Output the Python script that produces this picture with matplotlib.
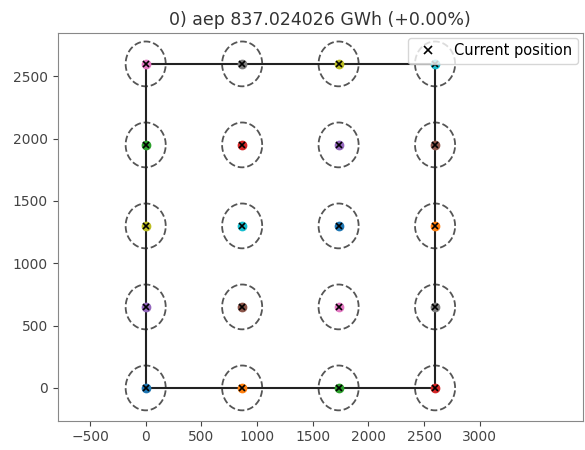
import numpy as np
import matplotlib
matplotlib.use("Agg")
import matplotlib.pyplot as plt

# -------------------------------------------------------------
# Data
# -------------------------------------------------------------
turbine_x = [0, 866, 1732, 2598]
turbine_y = [0, 650, 1300, 1950, 2600]
boundary_x = [0, 2598, 2598, 0, 0]
boundary_y = [0, 0, 2600, 2600, 0]
spacing_radius = 180
title_text = "0) aep 837.024026 GWh (+0.00%)"
x_ticks = [-500, 0, 500, 1000, 1500, 2000, 2500, 3000]
y_ticks = [0, 500, 1000, 1500, 2000, 2500]

# -------------------------------------------------------------
# Figure
# -------------------------------------------------------------
fig = plt.figure(figsize=(5.85, 4.5), dpi=100)
ax = fig.add_axes([0.0986, 0.0651, 0.8974, 0.861])

ax.plot(boundary_x, boundary_y, color='#222222', lw=1.5, zorder=2)

colors = plt.rcParams['axes.prop_cycle'].by_key()['color']
theta = np.linspace(0, 2 * np.pi, 200)
xs, ys = np.meshgrid(turbine_x, turbine_y)
xs = xs.ravel()
ys = ys.ravel()
for i, (x, y) in enumerate(zip(xs, ys)):
    ax.plot(x + spacing_radius * np.cos(theta), y + spacing_radius * np.sin(theta),
            '--', color='#555555', lw=1.3, zorder=1)
    ax.plot(x, y, 'o', color=colors[i % 10], ms=6, zorder=3)

ax.plot(xs, ys, 'x', color='black', ms=4.5, mew=1.2, zorder=4, label='Current position')

ax.set_xlim(-790, 3923)
ax.set_ylim(-263, 2846)
ax.set_xticks(x_ticks)
ax.set_yticks(y_ticks)
ax.tick_params(labelsize=10, colors='#444444')
for s in ax.spines.values():
    s.set_color('#888888')
ax.set_title(title_text, fontsize=12.5, color='#333333')
ax.legend(loc='upper right', fontsize=10.5, borderaxespad=0.3, markerscale=1.4)

fig.savefig('out.png', dpi=100)
